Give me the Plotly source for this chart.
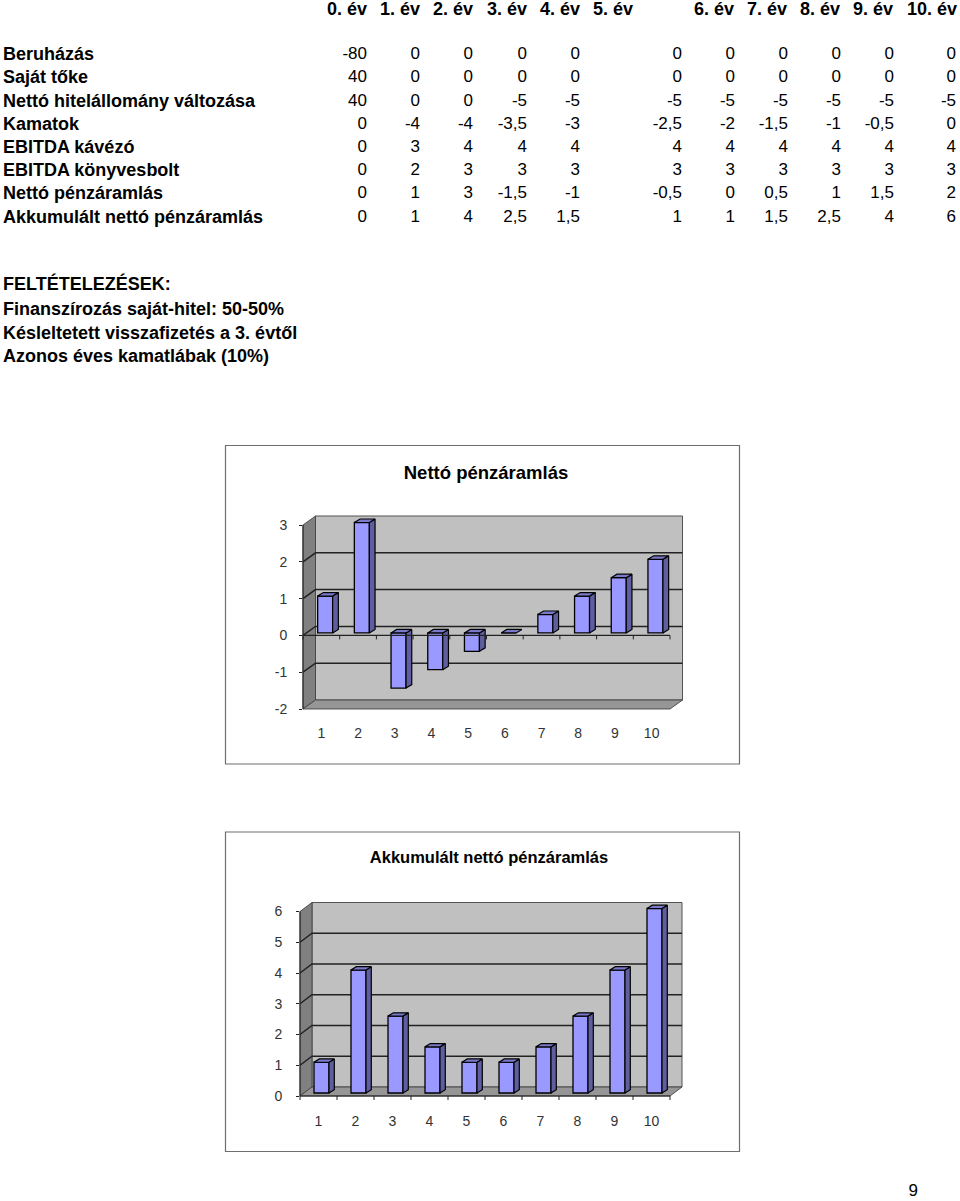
import numpy as np
import plotly.graph_objects as go

W, H = 960, 1201

# ---------- data ----------
year_headers = ["0. év", "1. év", "2. év", "3. év", "4. év", "5. év", "6. év", "7. év", "8. év", "9. év", "10. év"]
row_labels = ["Beruházás", "Saját tőke", "Nettó hitelállomány változása", "Kamatok",
              "EBITDA kávézó", "EBITDA könyvesbolt", "Nettó pénzáramlás", "Akkumulált nettó pénzáramlás"]
beruhazas = [-80, 0, 0, 0, 0, 0, 0, 0, 0, 0, 0]
sajat_toke = [40, 0, 0, 0, 0, 0, 0, 0, 0, 0, 0]
netto_hitel = [40, 0, 0, -5, -5, -5, -5, -5, -5, -5, -5]
kamatok = [0, -4, -4, -3.5, -3, -2.5, -2, -1.5, -1, -0.5, 0]
ebitda_kavezo = [0, 3, 4, 4, 4, 4, 4, 4, 4, 4, 4]
ebitda_konyvesbolt = [0, 2, 3, 3, 3, 3, 3, 3, 3, 3, 3]
netto_penzaramlas = [0, 1, 3, -1.5, -1, -0.5, 0, 0.5, 1, 1.5, 2]
akkumulalt = [0, 1, 4, 2.5, 1.5, 1, 1, 1.5, 2.5, 4, 6]
notes = ["FELTÉTELEZÉSEK:", "Finanszírozás saját-hitel: 50-50%",
         "Késleltetett visszafizetés a 3. évtől", "Azonos éves kamatlábak (10%)"]
chart_categories = [1, 2, 3, 4, 5, 6, 7, 8, 9, 10]
chart1_title = "Nettó pénzáramlás"
chart2_title = "Akkumulált nettó pénzáramlás"
chart1_ticks = [-2, -1, 0, 1, 2, 3]
chart2_ticks = [0, 1, 2, 3, 4, 5, 6]
page_number = "9"

# ---------- layout helpers ----------
FONT = "Liberation Sans"
px_x = lambda x: x / W
px_y = lambda y: 1 - y / H

fig = go.Figure()
shapes = []
labels = []  # (x, y, text, anchor, bold, size)


def text(x, y, s, anchor="left", bold=False, size=17, color="#000000"):
    labels.append((x, y, f"<b>{s}</b>" if bold else s, anchor, size, color))


def fmt(v):
    return f"{v:g}".replace(".", ",")


# ---------- table ----------
header_right = [367, 420, 473, 527, 580, 633, 734, 787, 840, 893, 957]
value_right = [367, 420, 473, 527, 580, 682, 735, 788, 841, 894, 956]
row_y = [55, 78, 102, 125, 148, 171, 194, 218]
rows = [beruhazas, sajat_toke, netto_hitel, kamatok, ebitda_kavezo, ebitda_konyvesbolt, netto_penzaramlas, akkumulalt]
BOLD = 18
for x, s in zip(header_right, year_headers):
    text(x, 10, s, "right", bold=True, size=BOLD)
for y, lab, vals in zip(row_y, row_labels, rows):
    text(3, y, lab, bold=True, size=BOLD)
    for x, v in zip(value_right, vals):
        text(x, y, fmt(v), "right")
for y, s in zip([285, 310, 334, 357], notes):
    text(3, y, s, bold=True, size=BOLD)
text(918, 1192, page_number, "right")


def rect_path(pts):
    return "M " + " L ".join(f"{px_x(x):.5f},{px_y(y):.5f}" for x, y in pts) + " Z"


def add_chart(n, title, title_xy, values, ticks, g):
    xname, yname = f"x{n}", f"y{n}"
    xl, xr, yb, yt = g["xl"], g["xr"], g["yb"], g["yt"]
    dx, dy = g["dx"], g["dy"]
    ylo, yhi = ticks[0], ticks[-1]
    unit = (yb - yt) / (yhi - ylo)
    pitch = (xr - xl) / 10
    yy = lambda v: yb - (v - ylo) * unit
    head = 20 / unit  # head room above the top tick so the bar tops are not clipped

    # frame
    shapes.append(dict(type="rect", xref="paper", yref="paper", layer="below",
                       x0=px_x(g["fx0"]), x1=px_x(g["fx1"]), y0=px_y(g["fy0"]), y1=px_y(g["fy1"]),
                       fillcolor="white", line=dict(color="#6e6e6e", width=1.2)))
    # walls
    wall = [(xl + dx, yt - dy), (xr + dx, yt - dy), (xr + dx, yb - dy), (xl + dx, yb - dy)]
    side = [(xl, yt), (xl + dx, yt - dy), (xl + dx, yb - dy), (xl, yb)]
    floor = [(xl, yb), (xr, yb), (xr + dx, yb - dy), (xl + dx, yb - dy)]
    for pts, col in ((wall, "#c0c0c0"), (side, "#808080"), (floor, "#969696")):
        shapes.append(dict(type="path", xref="paper", yref="paper", layer="below", path=rect_path(pts),
                           fillcolor=col, line=dict(color="#444444", width=0.9)))
    # gridlines on back and side wall
    for v in ticks:
        if v in (ylo, yhi):
            continue
        y = yy(v)
        shapes.append(dict(type="path", xref="paper", yref="paper", layer="below",
                           path=f"M {px_x(xl)},{px_y(y)} L {px_x(xl+dx)},{px_y(y-dy)} L {px_x(xr+dx)},{px_y(y-dy)}",
                           line=dict(color="#222222", width=1.5)))
    # value axis line
    shapes.append(dict(type="line", xref="paper", yref="paper", x0=px_x(xl), x1=px_x(xl), y0=px_y(yb), y1=px_y(yt),
                       line=dict(color="#222222", width=1)))
    # category axis line and ticks, at value zero
    y0 = yy(0)
    shapes.append(dict(type="line", xref="paper", yref="paper", x0=px_x(xl), x1=px_x(xr), y0=px_y(y0), y1=px_y(y0),
                       line=dict(color="#222222", width=1.1)))
    for k in range(11):
        x = xl + k * pitch
        shapes.append(dict(type="line", xref="paper", yref="paper", x0=px_x(x), x1=px_x(x),
                           y0=px_y(y0), y1=px_y(y0 + 4), line=dict(color="#222222", width=1)))

    # bars (front faces), plus computed top and side faces
    cats = np.array(chart_categories, float)
    vals = np.array(values, float)
    off = g["off_x"] / pitch
    base = g["off_y"] / unit
    w = g["bar_w"] / pitch
    ddx, ddy = g["ddx"] / pitch, g["ddy"] / unit
    fig.add_trace(go.Bar(x=cats + off, y=vals, base=base, width=w, xaxis=xname, yaxis=yname, cliponaxis=False,
                         marker=dict(color="#9999ff", line=dict(color="#000000", width=1.3)),
                         showlegend=False, hoverinfo="skip"))
    sx, sy, tx, ty = [], [], [], []
    for c, v in zip(cats + off, vals):
        r, l = c + w / 2, c - w / 2
        top = base + max(v, 0)
        bot = base + min(v, 0)
        if v != 0:
            sx += [r, r, r + ddx, r + ddx, r, None]
            sy += [bot, top, top + ddy, bot + ddy, bot, None]
        tx += [l, r, r + ddx, l + ddx, l, None]
        ty += [top, top, top + ddy, top + ddy, top, None]
    for xs, ys, col in ((sx, sy, "#5f5f9f"), (tx, ty, "#7a7acc")):
        fig.add_trace(go.Scatter(x=xs, y=ys, mode="lines", fill="toself", fillcolor=col, cliponaxis=False,
                                 line=dict(color="#000000", width=1.2), xaxis=xname, yaxis=yname,
                                 showlegend=False, hoverinfo="skip"))
    tick_font = dict(family=FONT, size=14, color="#333333")
    axis_x = dict(domain=[px_x(xl), px_x(xr)], range=[0.5, 10.5], anchor=yname, tickmode="array",
                  tickvals=chart_categories, ticks="", showline=False, showgrid=False, zeroline=False,
                  tickfont=tick_font, ticklabelstandoff=g["xstand"], fixedrange=True, automargin=False)
    axis_y = dict(domain=[px_y(yb), px_y(yt - head * unit)], range=[ylo, yhi + head], anchor=xname, tickmode="array",
                  tickvals=ticks, ticktext=[str(t) for t in ticks], ticks="outside", ticklen=3, tickwidth=1,
                  tickcolor="#222222", showline=False, showgrid=False, zeroline=False,
                  tickfont=tick_font, ticklabelstandoff=g["ystand"], fixedrange=True, automargin=False)
    layout_key = "" if n == 1 else str(n)
    fig.update_layout({f"xaxis{layout_key}": axis_x, f"yaxis{layout_key}": axis_y})
    text(title_xy[0], title_xy[1], title, "center", bold=True, size=g["title_size"])


add_chart(1, chart1_title, (486, 474), netto_penzaramlas[1:], chart1_ticks,
          dict(xl=303, xr=670, yb=709, yt=525, dx=12.5, dy=9, off_x=3.8, off_y=2.5, bar_w=15,
               ddx=5.7, ddy=3.5, fx0=225.5, fx1=739.5, fy0=445.5, fy1=764, xstand=14, ystand=9, title_size=18.5))
add_chart(2, chart2_title, (489, 859), akkumulalt[1:], chart2_ticks,
          dict(xl=300, xr=670, yb=1096, yt=911.5, dx=12, dy=9, off_x=3, off_y=3, bar_w=15,
               ddx=5.3, ddy=3.3, fx0=225.5, fx1=739.5, fy0=832, fy1=1151.5, xstand=15, ystand=11, title_size=16.5))

# All page text sits on one transparent overlay axis measured in page pixels.
pos = {"left": "middle right", "right": "middle left", "center": "middle center"}
for anchor in pos:
    for size in sorted({l[4] for l in labels if l[3] == anchor}):
        sel = [l for l in labels if l[3] == anchor and l[4] == size]
        fig.add_trace(go.Scatter(
            x=[l[0] for l in sel], y=[l[1] for l in sel], text=[l[2] for l in sel], mode="text",
            textposition=pos[anchor], cliponaxis=False, xaxis="x3", yaxis="y3", showlegend=False, hoverinfo="skip",
            textfont=dict(family=FONT, size=size, color="#000000")))

hidden = dict(visible=False, fixedrange=True, automargin=False)
fig.update_layout(
    xaxis3=dict(domain=[0, 1], range=[0, W], anchor="y3", **hidden),
    yaxis3=dict(domain=[0, 1], range=[H, 0], anchor="x3", **hidden),
    width=W, height=H, margin=dict(l=0, r=0, t=0, b=0, pad=0), paper_bgcolor="white",
    plot_bgcolor="rgba(0,0,0,0)", barmode="overlay", showlegend=False,
    shapes=shapes, font=dict(family=FONT))
fig.write_html("out.html", post_script="document.body.style.margin='0';", config={"displayModeBar": False})
